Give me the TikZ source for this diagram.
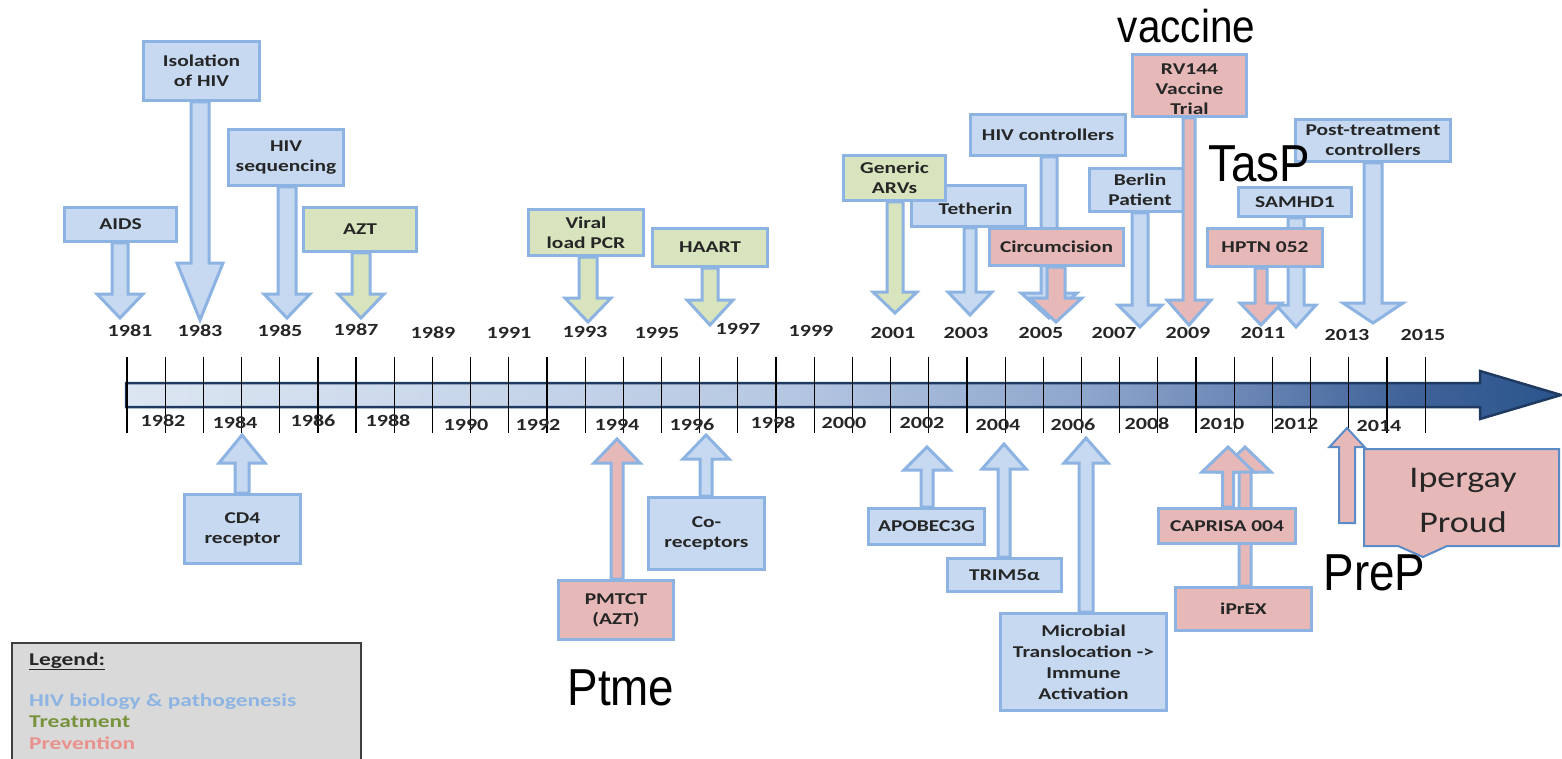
\documentclass[tikz,border=0pt]{standalone}
\usepackage{fontspec}
\usetikzlibrary{calc}
\newfontfamily\bxfont{Carlito}[FakeStretch=1.3]
\newfontfamily\cofont{Carlito}[FakeStretch=1.2]
\newfontfamily\lgfont{Liberation Sans}[FakeStretch=0.88]
\definecolor{bfill}{HTML}{C6D9F1}
\definecolor{gfill}{HTML}{D7E4BD}
\definecolor{pfill}{HTML}{E6B9B8}
\definecolor{bline}{HTML}{8DB3E2}
\definecolor{cline}{HTML}{5B8BC7}
\definecolor{txt}{HTML}{262626}
\definecolor{barA}{HTML}{DCE6F2}
\definecolor{barB}{HTML}{B8C9E3}
\definecolor{barC}{HTML}{8EA6CC}
\definecolor{barD}{HTML}{6A86B5}
\definecolor{barE}{HTML}{41649A}
\definecolor{barF}{HTML}{2A558C}
\definecolor{barline}{HTML}{1F3A60}
\definecolor{lgbg}{HTML}{D9D9D9}
\definecolor{lgline}{HTML}{3F3F3F}
\definecolor{lgblue}{HTML}{8DB4E2}
\definecolor{lggreen}{HTML}{77933C}
\definecolor{lgpink}{HTML}{E8918D}
\pgfdeclarehorizontalshading{barshade}{100bp}{color(0bp)=(barA); color(25bp)=(barA); color(47bp)=(barB);
  color(58.5bp)=(barC); color(64bp)=(barD); color(69.4bp)=(barE); color(75bp)=(barF); color(100bp)=(barF)}
\pgfdeclarelayer{bg}
\pgfdeclarelayer{arrA}
\pgfdeclarelayer{boxA}
\pgfdeclarelayer{arrB}
\pgfdeclarelayer{boxB}
\pgfsetlayers{bg,arrA,boxA,arrB,boxB,main}
\tikzset{
  evbox/.style={draw=bline, line width=3pt, inner sep=1pt, align=center, text=txt,
    font=\bxfont\bfseries\fontsize{16.5}{20}\selectfont},
  bluebox/.style={evbox, fill=bfill},
  greenbox/.style={evbox, fill=gfill},
  pinkbox/.style={evbox, fill=pfill},
  blk/.style={draw=bline, line width=3pt, line join=miter},
  yearlbl/.style={inner sep=0, text=txt, font=\bxfont\bfseries\fontsize{17}{20}\selectfont},
  ticklin/.style={draw=black, line width=1.2pt},
  bigtxt/.style={inner sep=0, anchor=base, text=black},
  lgtxt/.style={inner sep=0, anchor=base west, font=\bxfont\bfseries\fontsize{18}{20}\selectfont},
}
% [opts] #2 fill, #3 from, #4 tip, #5 head length, #6 shaft half width, #7 head half width
\newcommand\blockarrow[7][]{%
  \draw[blk, fill=#2, #1] let \p1=(#3), \p2=(#4), \n1={sign(\y1-(\y2))}, \n2={\y2+(\n1)*#5pt} in
    ({\x2-#6pt},{\y1}) -- ({\x2-#6pt},{\n2}) -- ({\x2-#7pt},{\n2}) -- ({\x2},{\y2})
    -- ({\x2+#7pt},{\n2}) -- ({\x2+#6pt},{\n2}) -- ({\x2+#6pt},{\y1}) -- cycle;}
\begin{document}
\begin{tikzpicture}[x=1pt,y=-1pt]
\useasboundingbox (0,0) rectangle (1562,759);
\begin{pgfonlayer}{bg}
\fill[white] (0,0) rectangle (1562,759);
\end{pgfonlayer}

% ---------- timeline ----------
\draw[line width=2.5pt, draw=barline, shading=barshade, line join=miter]
  (126,383) -- (1480,383) -- (1480,371) -- (1561,395) -- (1480,419) -- (1480,407) -- (126,407) -- cycle;
\foreach \k in {0,...,34} \draw[ticklin] (127+38.18*\k,357) -- (127+38.18*\k,433);

% top years
\foreach \yr/\xx/\yy in {1981/130/331,1983/200/331,1985/280/331,1987/356/330,1989/433/333,1991/509/333,
  1993/585/332,1995/657/333,1997/738/329,1999/811/331,2001/893/333,2003/966/333,2005/1041/333,
  2007/1114/333,2009/1188/333,2011/1263/333,2013/1347/335,2015/1423/335}
  \node[yearlbl] (y\yr) at (\xx,\yy) {\yr};
% bottom years
\foreach \yr/\xx/\yy in {1982/163/421,1984/235/423,1986/313/421,1988/388/421,1990/466/425,1992/538/425,
  1994/617/425,1996/692/425,1998/773/423,2000/844/423,2002/922/423,2004/998/425,2006/1073/425,
  2008/1147/424,2010/1222/424,2012/1296/424,2014/1379/426}
  \node[yearlbl] (y\yr) at (\xx,\yy) {\yr};

% ---------- event boxes ----------
\begin{pgfonlayer}{boxA}
\node[bluebox, minimum width=112, minimum height=34] (aids) at (120.5,224.5) {AIDS};
\node[bluebox, minimum width=116, minimum height=59] (iso) at (201.5,71) {Isolation\\of HIV};
\node[bluebox, minimum width=115, minimum height=56] (seq) at (286,157.5) {HIV\\sequencing};
\node[greenbox, minimum width=113, minimum height=44] (azt) at (360,229.5) {AZT};
\node[greenbox, minimum width=115, minimum height=46] (vlpcr) at (586,232.5) {Viral\\load PCR};
\node[greenbox, minimum width=115, minimum height=38] (haart) at (710,247.5) {HAART};
\node[bluebox, minimum width=114, minimum height=41] (tetherin) at (968.5,206) {\raisebox{-3pt}[\height][\depth]{\hspace*{14pt}Tetherin}};
\node[bluebox, minimum width=155, minimum height=41] (hivc) at (1048,135) {HIV controllers};
\node[bluebox, minimum width=101, minimum height=43] (berlin) at (1140,190) {Berlin\\Patient};
\node[bluebox, minimum width=113, minimum height=29] (samhd) at (1295,202) {SAMHD1};
\node[bluebox, minimum width=155, minimum height=42] (ptc) at (1373,140.5) {Post-treatment\\controllers};
\node[bluebox, minimum width=116, minimum height=69] (cd4) at (242.5,529) {CD4\\receptor};
\node[pinkbox, minimum width=115, minimum height=59] (pmtct) at (616,610) {PMTCT\\(AZT)};
\node[bluebox, minimum width=116, minimum height=72] (corec) at (706.5,533.5) {Co-\\receptors};
\node[bluebox, minimum width=116, minimum height=36] (apobec) at (926.5,526.5) {APOBEC3G};
\node[bluebox, minimum width=114, minimum height=33] (trim) at (1004.5,575) {TRIM5α};
\node[bluebox, minimum width=166, minimum height=97, font=\bxfont\bfseries\fontsize{16.5}{21}\selectfont] (micro) at (1083.5,662)
  {Microbial\\Translocation ->\\Immune\\Activation};
\node[pinkbox, minimum width=136, minimum height=43] (iprex) at (1243.5,609) {iPrEX};
\end{pgfonlayer}
\begin{pgfonlayer}{boxB}
\node[greenbox, minimum width=102, minimum height=45] (generic) at (894.5,178) {Generic\\ARVs};
\node[pinkbox, minimum width=134, minimum height=37] (circ) at (1056.5,247) {Circumcision};
\node[pinkbox, minimum width=114, minimum height=62] (rv144) at (1189.5,85.5)
  {\raisebox{-5pt}[\height][\depth]{\begin{tabular}{@{}c@{}}RV144\\Vaccine\\Trial\end{tabular}}};
\node[pinkbox, minimum width=115, minimum height=38] (hptn) at (1265,247.5) {HPTN 052};
\node[pinkbox, minimum width=137, minimum height=35] (caprisa) at (1227,526) {CAPRISA 004};
\end{pgfonlayer}

% ---------- arrow tips ----------
\coordinate (aids-t) at (120,318);
\coordinate (iso-t) at (200,320);
\coordinate (seq-t) at (287,318);
\coordinate (azt-t) at (361,318);
\coordinate (vlpcr-t) at (588,322);
\coordinate (haart-t) at (710,325);
\coordinate (generic-t) at (895,313);
\coordinate (tetherin-t) at (970,315);
\coordinate (hivc-t) at (1049,318);
\coordinate (circ-t) at (1056,322);
\coordinate (berlin-t) at (1140,327);
\coordinate (rv144-t) at (1189,325);
\coordinate (samhd-t) at (1296,327);
\coordinate (hptn-t) at (1261,325);
\coordinate (ptc-t) at (1373,323);
\coordinate (cd4-t) at (242,435);
\coordinate (pmtct-t) at (617,439);
\coordinate (corec-t) at (706,435);
\coordinate (apobec-t) at (927,447);
\coordinate (trim-t) at (1004,444);
\coordinate (micro-t) at (1086,438);
\coordinate (caprisa-t) at (1228,447);
\coordinate (iprex-t) at (1245,447);
\coordinate (prep-b) at (1347,523);
\coordinate (prep-t) at (1347,428);

\begin{pgfonlayer}{arrA}
\blockarrow{bfill}{aids.south}{aids-t}{24}{8}{23}
\blockarrow{bfill}{iso.south}{iso-t}{57}{9}{23}
\blockarrow{bfill}{seq.south}{seq-t}{24}{9}{23}
\blockarrow{gfill}{azt.south}{azt-t}{24}{9}{23}
\blockarrow{gfill}{vlpcr.south}{vlpcr-t}{24}{9}{23}
\blockarrow{gfill}{haart.south}{haart-t}{25}{8}{23}
\blockarrow{bfill}{tetherin.south}{tetherin-t}{23}{6}{22}
\blockarrow{bfill}{hivc.south}{hivc-t}{25}{8}{28}
\blockarrow{bfill}{berlin.south}{berlin-t}{22}{8}{22}
\blockarrow{bfill}{samhd.south}{samhd-t}{22}{8}{20}
\blockarrow{bfill}{ptc.south}{ptc-t}{20}{9}{30}
\blockarrow{bfill}{cd4.north}{cd4-t}{28}{7}{23}
\blockarrow{pfill}{pmtct.north}{pmtct-t}{24}{6}{23}
\blockarrow{bfill}{corec.north}{corec-t}{24}{6}{23}
\blockarrow{bfill}{apobec.north}{apobec-t}{23}{6}{23}
\blockarrow{bfill}{trim.north}{trim-t}{25}{6}{22}
\blockarrow{bfill}{micro.north}{micro-t}{25}{7}{22}
\blockarrow{pfill}{iprex.north}{iprex-t}{25}{6}{26}
\end{pgfonlayer}
\begin{pgfonlayer}{arrB}
\blockarrow{gfill}{generic.south}{generic-t}{21}{8}{22}
\blockarrow{pfill}{circ.south}{circ-t}{24}{9}{26}
\blockarrow{pfill}{rv144.south}{rv144-t}{25}{6}{22}
\blockarrow{pfill}{hptn.south}{hptn-t}{22}{6}{21}
\blockarrow{pfill}{caprisa.north}{caprisa-t}{25}{5.5}{26}
\end{pgfonlayer}

% ---------- PreP callout ----------
\blockarrow[draw=cline, line width=2pt]{pfill}{prep-b}{prep-t}{19}{8}{17.5}
\draw[draw=cline, line width=2pt, fill=pfill, line join=miter]
  (1364,449) -- (1559,449) -- (1559,546) -- (1447,546) -- (1423,557) -- (1398,546) -- (1364,546) -- cycle;
\node[inner sep=0, align=center, text=txt, font=\cofont\fontsize{30}{45}\selectfont] (ipergay) at (1463,500) {Ipergay\\Proud};

% ---------- large labels ----------
\node[bigtxt, font=\lgfont\fontsize{46}{50}\selectfont] (vaccine) at (1186.5,43) {vaccine};
\node[bigtxt, font=\lgfont\fontsize{52}{56}\selectfont] (tasp) at (1259,182) {TasP};
\node[bigtxt, font=\lgfont\fontsize{52}{56}\selectfont] (prep) at (1374.5,590) {PreP};
\node[bigtxt, font=\lgfont\fontsize{52}{56}\selectfont] (ptme) at (621,705) {Ptme};

% ---------- legend ----------
\draw[fill=lgbg, draw=lgline, line width=2pt] (12,643) rectangle (361,765);
\node[lgtxt, text=txt] (lg0) at (29,665) {\underline{Legend:}};
\node[lgtxt, text=lgblue] (lg1) at (29,706) {HIV biology \& pathogenesis};
\node[lgtxt, text=lggreen] (lg2) at (29,727.5) {Treatment};
\node[lgtxt, text=lgpink] (lg3) at (29,749) {Prevention};
\end{tikzpicture}
\end{document}
